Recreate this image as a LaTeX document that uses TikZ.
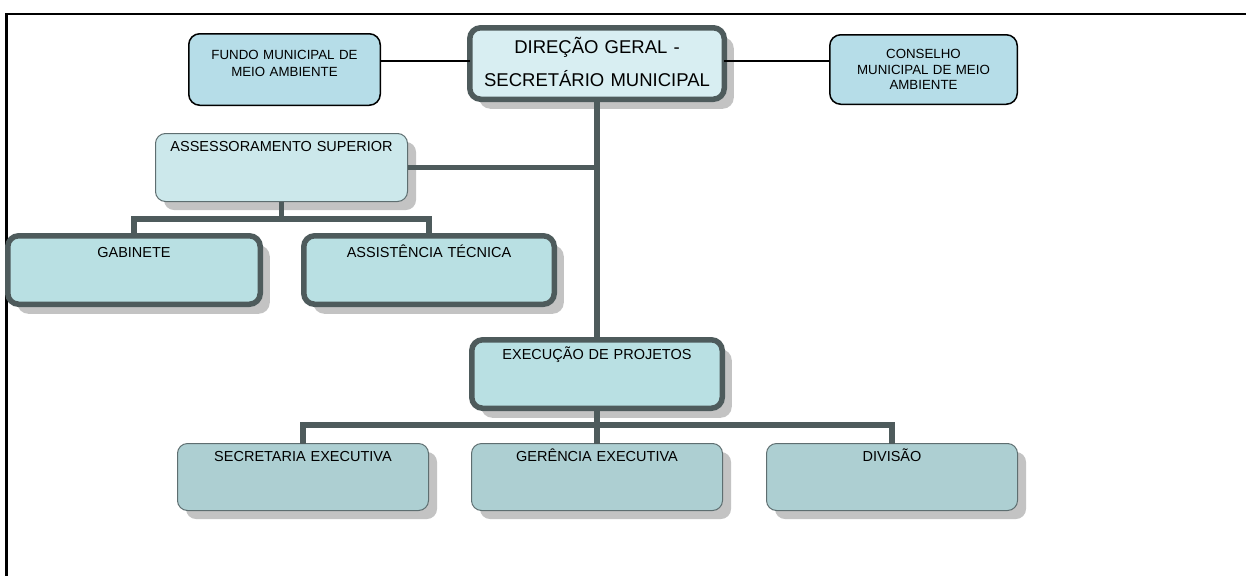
\documentclass[tikz,border=0pt]{standalone}
\usepackage{fontspec}
\setmainfont{Liberation Sans}
\usetikzlibrary{calc,shadows}
\definecolor{dk}{RGB}{78,91,92}
\definecolor{fillTop}{RGB}{216,238,242}
\definecolor{fillMid}{RGB}{185,224,227}
\definecolor{fillSide}{RGB}{182,221,232}
\definecolor{fillAss}{RGB}{204,232,235}
\definecolor{fillLow}{RGB}{173,207,210}
\definecolor{lowline}{RGB}{94,110,112}
\definecolor{shad}{RGB}{195,195,195}
\begin{document}
\begin{tikzpicture}[x=1pt,y=-1pt,
  every node/.style={inner sep=0pt, outer sep=0pt, align=center, text=black},
  heavybox/.style={draw=dk, line width=5.5pt, rounded corners=11pt, fill=fillMid,
    general shadow={fill=shad, shadow xshift=9.5pt, shadow yshift=-9.5pt},
    font=\fontsize{14.5}{17}\selectfont},
  sidebox/.style={draw=black, line width=1.5pt, rounded corners=11pt, fill=fillSide,
    font=\fontsize{13.3}{17}\selectfont},
  lightbox/.style={draw=lowline, line width=1pt, rounded corners=10pt, fill=fillAss,
    general shadow={fill=shad, shadow xshift=8.5pt, shadow yshift=-8.5pt},
    font=\fontsize{14.5}{17}\selectfont},
  lowbox/.style={lightbox, fill=fillLow, text width=251pt, text height=17.7pt, text depth=49.3pt},
  trunk/.style={draw=dk, line width=5.5pt},
  thinlink/.style={draw=black, line width=1.3pt},
  frameline/.style={draw=black, line width=2.5pt}
]
\useasboundingbox (0,0) rectangle (1246,576);
\draw[frameline] (1246,14) -- (6.5,14) -- (6.5,576);

% top row
\node[sidebox, text width=191.5pt, text height=26pt, text depth=45.5pt] (fundo) at (284.5,69.5)
  {FUNDO MUNICIPAL DE\\MEIO AMBIENTE};
\node[heavybox, fill=fillTop, font=\fontsize{18.5}{33}\selectfont,
  text width=254.5pt, text height=26pt, text depth=45.5pt] (dir) at (597,63.5)
  {DIREÇÃO GERAL -\\SECRETÁRIO MUNICIPAL};
\node[sidebox, text width=187.5pt, text height=24pt, text depth=45.5pt,
  font=\fontsize{13.3}{15.5}\selectfont] (cons) at (923.5,69.5)
  {CONSELHO\\MUNICIPAL DE MEIO\\AMBIENTE};

% second level
\node[lightbox, text width=252pt, text height=17.7pt, text depth=50.3pt] (ass) at (281.5,167.5)
  {ASSESSORAMENTO SUPERIOR};
\node[heavybox, text width=252.5pt, text height=21.45pt, text depth=47.05pt] (gab) at (134,270)
  {GABINETE};
\node[heavybox, text width=250.5pt, text height=21.45pt, text depth=47.05pt] (asst) at (429,270)
  {ASSISTÊNCIA TÉCNICA};
\node[heavybox, text width=250.5pt, text height=19.45pt, text depth=49.05pt] (exec) at (597,374)
  {EXECUÇÃO DE PROJETOS};

% bottom row
\node[lowbox] (secr) at (303,477) {SECRETARIA EXECUTIVA};
\node[lowbox] (ger) at (597,477) {GERÊNCIA EXECUTIVA};
\node[lowbox] (div) at (892,477) {DIVISÃO};

% thin links
\draw[thinlink] ($(fundo.east)+(0,-8.5)$) -- ($(dir.west)+(0,-2.5)$);
\draw[thinlink] ($(dir.east)+(0,-2.5)$) -- ($(cons.west)+(0,-8.5)$);

% trunk
\draw[trunk] (dir.south) -- (exec.north);
\draw[trunk] (ass.east) -- (ass.east -| dir.south);

\coordinate (j1) at ($(ass.south)+(0,17.5)$);
\draw[trunk] (ass.south) -- (j1);
\draw[trunk] (gab.north) |- (j1) -| (asst.north);

\coordinate (j2) at ($(exec.south)+(0,16.75)$);
\draw[trunk] (exec.south) -- (j2);
\draw[trunk] (secr.north) |- (j2) -| (div.north);
\draw[trunk] (j2) -- (ger.north);
\end{tikzpicture}
\end{document}
